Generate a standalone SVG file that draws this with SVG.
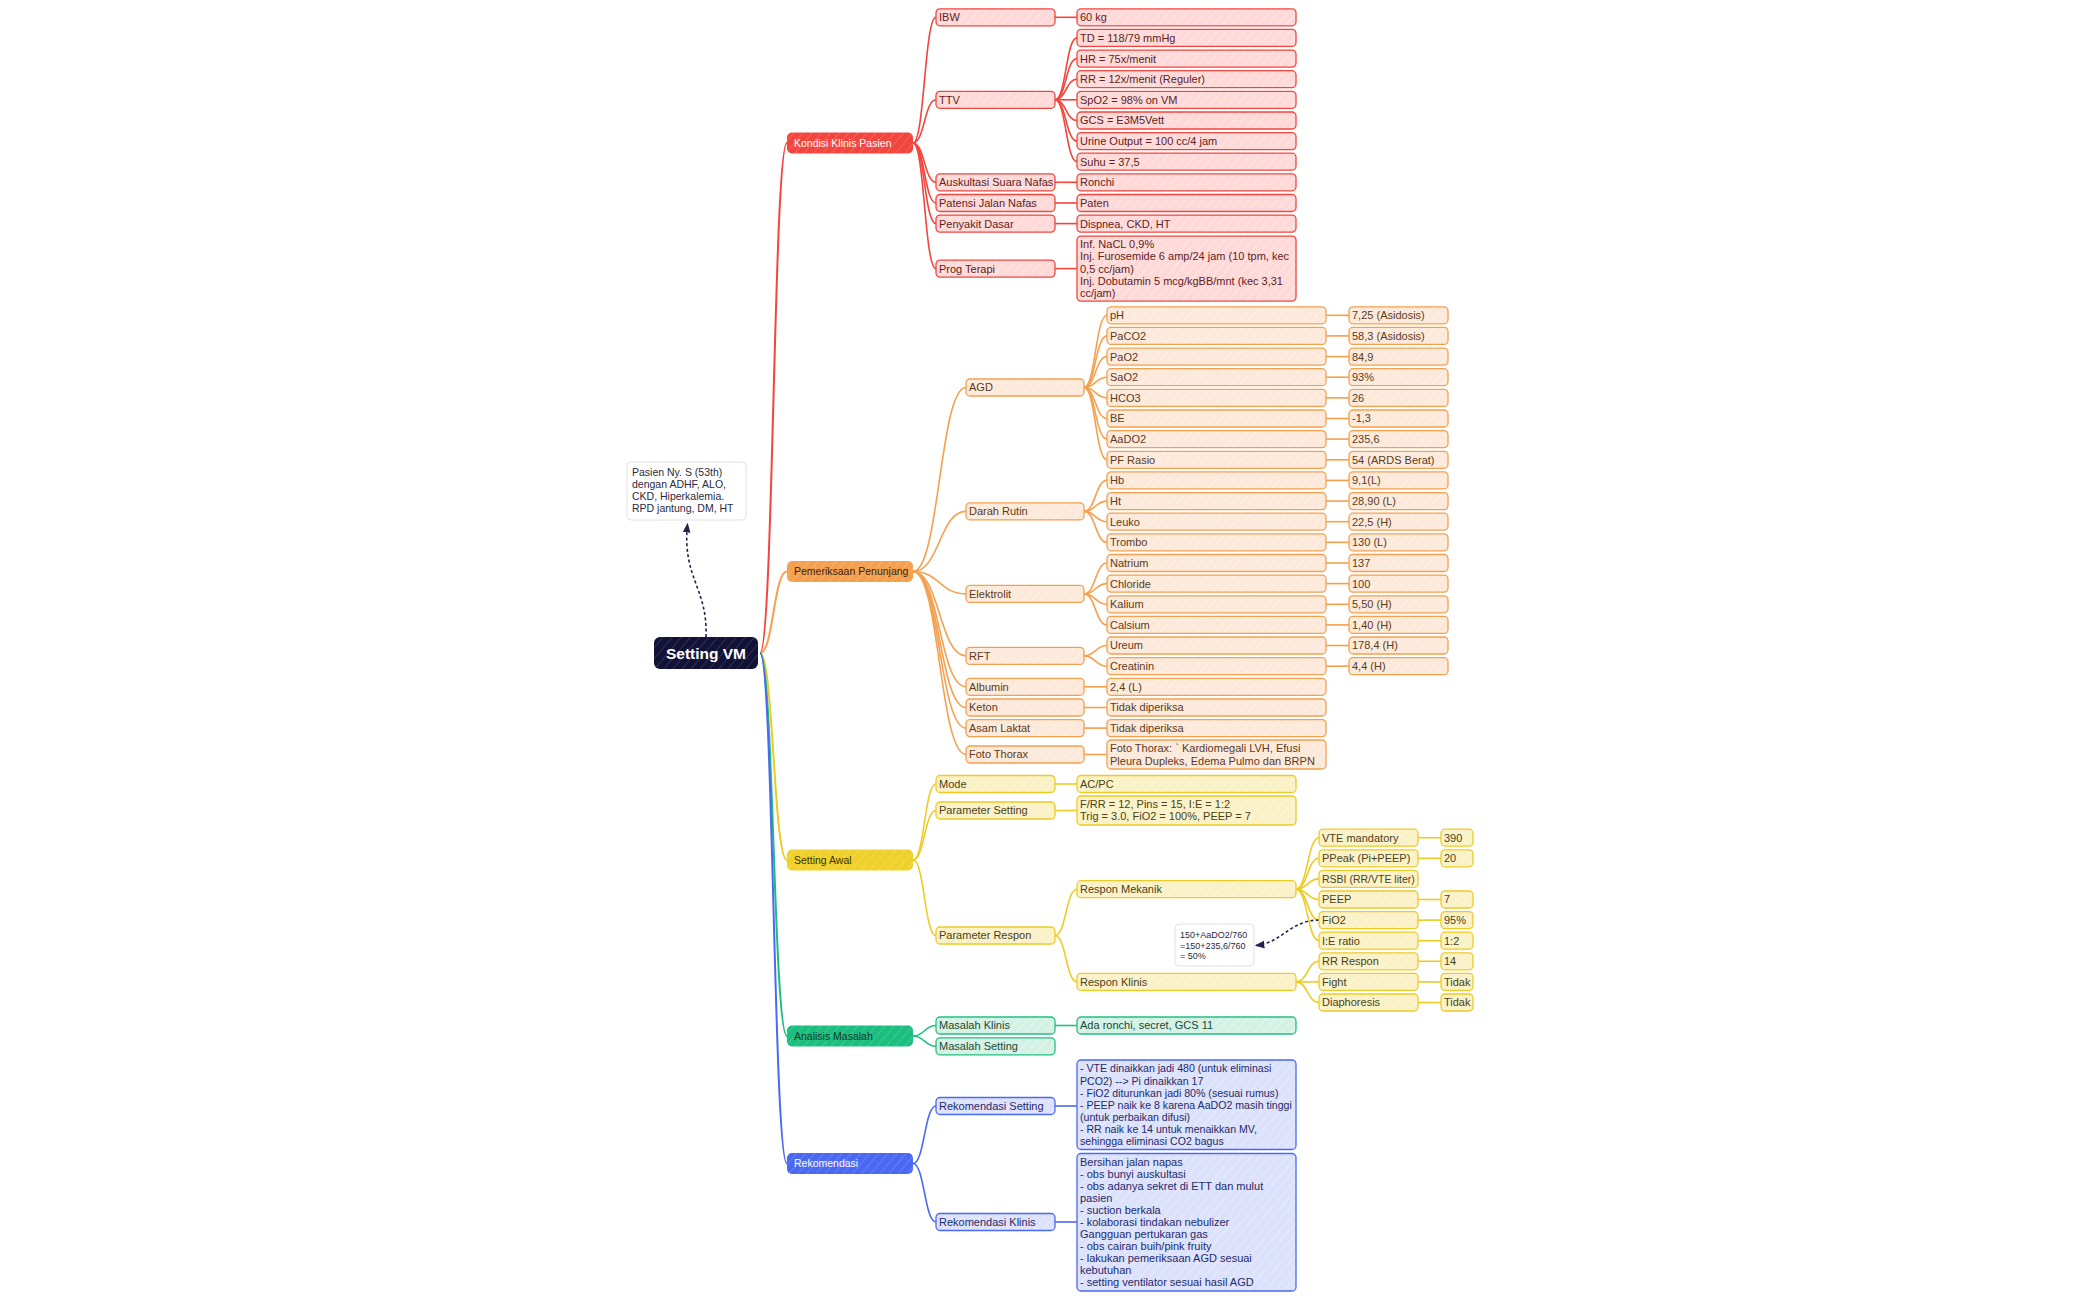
<svg xmlns="http://www.w3.org/2000/svg" width="2099" height="1300" viewBox="0 0 2099 1300">
<defs>
<pattern id="hR" width="7" height="7" patternUnits="userSpaceOnUse" patternTransform="rotate(40)"><rect width="7" height="7" fill="#FFD9D8"/><path d="M0 0V7" stroke="#fff" stroke-width="1.2" stroke-opacity=".55"/></pattern>
<pattern id="hO" width="7" height="7" patternUnits="userSpaceOnUse" patternTransform="rotate(40)"><rect width="7" height="7" fill="#FDE9DA"/><path d="M0 0V7" stroke="#fff" stroke-width="1.2" stroke-opacity=".55"/></pattern>
<pattern id="hY" width="7" height="7" patternUnits="userSpaceOnUse" patternTransform="rotate(40)"><rect width="7" height="7" fill="#FBF1C6"/><path d="M0 0V7" stroke="#fff" stroke-width="1.2" stroke-opacity=".55"/></pattern>
<pattern id="hG" width="7" height="7" patternUnits="userSpaceOnUse" patternTransform="rotate(40)"><rect width="7" height="7" fill="#D3F2E5"/><path d="M0 0V7" stroke="#fff" stroke-width="1.2" stroke-opacity=".55"/></pattern>
<pattern id="hB" width="7" height="7" patternUnits="userSpaceOnUse" patternTransform="rotate(40)"><rect width="7" height="7" fill="#DCE1FC"/><path d="M0 0V7" stroke="#fff" stroke-width="1.2" stroke-opacity=".55"/></pattern>
<pattern id="mR" width="7" height="7" patternUnits="userSpaceOnUse" patternTransform="rotate(40)"><rect width="7" height="7" fill="#F2453D"/><path d="M0 0V7" stroke="#fff" stroke-width="1" stroke-opacity=".3"/></pattern>
<pattern id="mO" width="7" height="7" patternUnits="userSpaceOnUse" patternTransform="rotate(40)"><rect width="7" height="7" fill="#F5A04E"/><path d="M0 0V7" stroke="#fff" stroke-width="1" stroke-opacity=".3"/></pattern>
<pattern id="mY" width="7" height="7" patternUnits="userSpaceOnUse" patternTransform="rotate(40)"><rect width="7" height="7" fill="#F0D12B"/><path d="M0 0V7" stroke="#fff" stroke-width="1" stroke-opacity=".3"/></pattern>
<pattern id="mG" width="7" height="7" patternUnits="userSpaceOnUse" patternTransform="rotate(40)"><rect width="7" height="7" fill="#1BBE7E"/><path d="M0 0V7" stroke="#fff" stroke-width="1" stroke-opacity=".3"/></pattern>
<pattern id="mB" width="7" height="7" patternUnits="userSpaceOnUse" patternTransform="rotate(40)"><rect width="7" height="7" fill="#4A68F2"/><path d="M0 0V7" stroke="#fff" stroke-width="1" stroke-opacity=".3"/></pattern>
<pattern id="mK" width="7" height="7" patternUnits="userSpaceOnUse" patternTransform="rotate(40)"><rect width="7" height="7" fill="#111236"/><path d="M0 0V7" stroke="#fff" stroke-width="1" stroke-opacity=".25"/></pattern>
<marker id="arr" viewBox="0 0 8 8" refX="7" refY="4" markerWidth="6" markerHeight="6" orient="auto"><path d="M0 0.8L8 4L0 7.2Z" fill="#22224a"/></marker>
<style>
text{font-family:"Liberation Sans",Arial,sans-serif;font-size:11px}
.k rect{stroke-width:1.3}
.R rect{fill:url(#hR);stroke:#F2453D}
.R text{fill:#5E2222}
.O rect{fill:url(#hO);stroke:#F4A04E}
.O text{fill:#5C3A1A}
.Y rect{fill:url(#hY);stroke:#EDCB25}
.Y text{fill:#4A4215}
.G rect{fill:url(#hG);stroke:#22BF83}
.G text{fill:#174A36}
.B rect{fill:url(#hB);stroke:#4A6AF0}
.B text{fill:#1E2A6A}
.MR text,.MO text,.MY text,.MG text,.MB text{font-size:10.5px}
.MR rect{fill:url(#mR)} .MR text{fill:#fff}
.MO rect{fill:url(#mO)} .MO text{fill:#3A2410}
.MY rect{fill:url(#mY)} .MY text{fill:#3A3200}
.MG rect{fill:url(#mG)} .MG text{fill:#0E3A28}
.MB rect{fill:url(#mB)} .MB text{fill:#fff}
.note rect{fill:#fff;stroke:#E2E2E8;stroke-width:1}
.note text{fill:#2A2A3E}
#connectors path{fill:none;stroke-width:1.6}
.cR path{stroke:#F2453D}
.cO path{stroke:#F4A04E}
.cY path{stroke:#EDCB25}
.cG path{stroke:#22BF83}
.cB path{stroke:#4A6AF0}
.cD path{stroke:#22224a;stroke-width:1.2;stroke-dasharray:3 2.5}
#connectors .trunk path{stroke-width:2}
</style>
</defs>
<rect width="2099" height="1300" fill="#fff"/>

<g id="connectors">
<g class="trunk">
<path d="M760 653C773.5 653 773.5 143 787 143" stroke="#F2453D"/>
<path d="M760 653C773.5 653 773.5 571.5 787 571.5" stroke="#F4A04E"/>
<path d="M760 653C773.5 653 773.5 860 787 860" stroke="#EDCB25"/>
<path d="M760 653C773.5 653 773.5 1036 787 1036" stroke="#1BBE7E"/>
<path d="M760 653C773.5 653 773.5 1163.5 787 1163.5" stroke="#4A68F2"/>
</g>
<g class="cR">
<path d="M913 143C924.5 143 924.5 17.3 936 17.3"/>
<path d="M913 143C924.5 143 924.5 99.8 936 99.8"/>
<path d="M913 143C924.5 143 924.5 182.3 936 182.3"/>
<path d="M913 143C924.5 143 924.5 203 936 203"/>
<path d="M913 143C924.5 143 924.5 223.6 936 223.6"/>
<path d="M913 143C924.5 143 924.5 268.6 936 268.6"/>
<path d="M1055 17.3H1077"/>
<path d="M1055 99.8C1066 99.8 1066 37.9 1077 37.9"/>
<path d="M1055 99.8C1066 99.8 1066 58.6 1077 58.6"/>
<path d="M1055 99.8C1066 99.8 1066 79.2 1077 79.2"/>
<path d="M1055 99.8H1077"/>
<path d="M1055 99.8C1066 99.8 1066 120.5 1077 120.5"/>
<path d="M1055 99.8C1066 99.8 1066 141.1 1077 141.1"/>
<path d="M1055 99.8C1066 99.8 1066 161.7 1077 161.7"/>
<path d="M1055 182.3H1077"/>
<path d="M1055 203H1077"/>
<path d="M1055 223.6H1077"/>
<path d="M1055 268.6H1077"/>
</g>
<g class="cO">
<path d="M913 571.5C939.5 571.5 939.5 387.5 966 387.5"/>
<path d="M913 571.5C939.5 571.5 939.5 511.4 966 511.4"/>
<path d="M913 571.5C939.5 571.5 939.5 593.9 966 593.9"/>
<path d="M913 571.5C939.5 571.5 939.5 655.9 966 655.9"/>
<path d="M913 571.5C939.5 571.5 939.5 686.8 966 686.8"/>
<path d="M913 571.5C939.5 571.5 939.5 707.5 966 707.5"/>
<path d="M913 571.5C939.5 571.5 939.5 728.1 966 728.1"/>
<path d="M913 571.5C939.5 571.5 939.5 754.5 966 754.5"/>
<path d="M1084 387.5C1095.5 387.5 1095.5 315.3 1107 315.3"/>
<path d="M1084 387.5C1095.5 387.5 1095.5 335.9 1107 335.9"/>
<path d="M1084 387.5C1095.5 387.5 1095.5 356.6 1107 356.6"/>
<path d="M1084 387.5C1095.5 387.5 1095.5 377.2 1107 377.2"/>
<path d="M1084 387.5C1095.5 387.5 1095.5 397.9 1107 397.9"/>
<path d="M1084 387.5C1095.5 387.5 1095.5 418.5 1107 418.5"/>
<path d="M1084 387.5C1095.5 387.5 1095.5 439.1 1107 439.1"/>
<path d="M1084 387.5C1095.5 387.5 1095.5 459.8 1107 459.8"/>
<path d="M1084 511.4C1095.5 511.4 1095.5 480.4 1107 480.4"/>
<path d="M1084 511.4C1095.5 511.4 1095.5 501.1 1107 501.1"/>
<path d="M1084 511.4C1095.5 511.4 1095.5 521.7 1107 521.7"/>
<path d="M1084 511.4C1095.5 511.4 1095.5 542.3 1107 542.3"/>
<path d="M1084 593.9C1095.5 593.9 1095.5 563 1107 563"/>
<path d="M1084 593.9C1095.5 593.9 1095.5 583.6 1107 583.6"/>
<path d="M1084 593.9C1095.5 593.9 1095.5 604.3 1107 604.3"/>
<path d="M1084 593.9C1095.5 593.9 1095.5 624.9 1107 624.9"/>
<path d="M1084 655.9C1095.5 655.9 1095.5 645.5 1107 645.5"/>
<path d="M1084 655.9C1095.5 655.9 1095.5 666.2 1107 666.2"/>
<path d="M1084 686.8H1107"/>
<path d="M1084 707.5H1107"/>
<path d="M1084 728.1H1107"/>
<path d="M1084 754.5H1107"/>
<path d="M1326 315.3H1349"/>
<path d="M1326 335.9H1349"/>
<path d="M1326 356.6H1349"/>
<path d="M1326 377.2H1349"/>
<path d="M1326 397.9H1349"/>
<path d="M1326 418.5H1349"/>
<path d="M1326 439.1H1349"/>
<path d="M1326 459.8H1349"/>
<path d="M1326 480.4H1349"/>
<path d="M1326 501.1H1349"/>
<path d="M1326 521.7H1349"/>
<path d="M1326 542.3H1349"/>
<path d="M1326 563H1349"/>
<path d="M1326 583.6H1349"/>
<path d="M1326 604.3H1349"/>
<path d="M1326 624.9H1349"/>
<path d="M1326 645.5H1349"/>
<path d="M1326 666.2H1349"/>
</g>
<g class="cY">
<path d="M913 860C924.5 860 924.5 784 936 784"/>
<path d="M913 860C924.5 860 924.5 810.5 936 810.5"/>
<path d="M913 860C924.5 860 924.5 935.5 936 935.5"/>
<path d="M1055 784H1077"/>
<path d="M1055 810.5H1077"/>
<path d="M1055 935.5C1066 935.5 1066 889.2 1077 889.2"/>
<path d="M1055 935.5C1066 935.5 1066 981.9 1077 981.9"/>
<path d="M1296 889.2C1307.5 889.2 1307.5 837.7 1319 837.7"/>
<path d="M1296 889.2C1307.5 889.2 1307.5 858.3 1319 858.3"/>
<path d="M1296 889.2C1307.5 889.2 1307.5 878.9 1319 878.9"/>
<path d="M1296 889.2C1307.5 889.2 1307.5 899.5 1319 899.5"/>
<path d="M1296 889.2C1307.5 889.2 1307.5 920.1 1319 920.1"/>
<path d="M1296 889.2C1307.5 889.2 1307.5 940.7 1319 940.7"/>
<path d="M1296 981.9C1307.5 981.9 1307.5 961.3 1319 961.3"/>
<path d="M1296 981.9H1319"/>
<path d="M1296 981.9C1307.5 981.9 1307.5 1002.5 1319 1002.5"/>
<path d="M1418 837.7H1441"/>
<path d="M1418 858.3H1441"/>
<path d="M1418 899.5H1441"/>
<path d="M1418 920.1H1441"/>
<path d="M1418 940.7H1441"/>
<path d="M1418 961.3H1441"/>
<path d="M1418 981.9H1441"/>
<path d="M1418 1002.5H1441"/>
</g>
<g class="cG">
<path d="M913 1036C924.5 1036 924.5 1025.5 936 1025.5"/>
<path d="M913 1036C924.5 1036 924.5 1046.3 936 1046.3"/>
<path d="M1055 1025.5H1077"/>
</g>
<g class="cB">
<path d="M913 1163.5C924.5 1163.5 924.5 1106 936 1106"/>
<path d="M913 1163.5C924.5 1163.5 924.5 1222 936 1222"/>
<path d="M1055 1106H1077"/>
<path d="M1055 1222H1077"/>
</g>
<g class="cD">
<path d="M706 637C708 588 682 578 687.5 524" marker-end="url(#arr)"/>
<path d="M1319 920.1C1290 920.1 1282 943 1256 945.5" marker-end="url(#arr)"/>
</g>
</g>

<g id="root" class="k"><rect x="654" y="637" width="104" height="32" rx="6" fill="url(#mK)"/><text x="706" y="658.5" text-anchor="middle" fill="#fff" font-weight="bold" style="font-size:15.5px">Setting VM</text></g>
<g id="note-pasien" class="note"><rect x="627" y="462" width="119" height="58" rx="4"/><text style="font-size:10.5px"><tspan x="632" y="476.2">Pasien Ny. S (53th)</tspan><tspan x="632" y="488.1">dengan ADHF, ALO,</tspan><tspan x="632" y="500">CKD, Hiperkalemia.</tspan><tspan x="632" y="511.9">RPD jantung, DM, HT</tspan></text></g>
<g id="note-fio2" class="note"><rect x="1175" y="924" width="79" height="42" rx="4"/><text style="font-size:9px"><tspan x="1180" y="938.2">150+AaDO2/760</tspan><tspan x="1180" y="948.6">=150+235,6/760</tspan><tspan x="1180" y="959">= 50%</tspan></text></g>

<!-- Kondisi Klinis Pasien -->
<g id="m-kondisi" class="k MR"><rect x="787" y="132.5" width="126" height="21" rx="5"/><text x="794" y="146.8">Kondisi Klinis Pasien</text></g>
<g id="n-ibw" class="k R"><rect x="936" y="8.8" width="119" height="17" rx="4"/><text x="939" y="21.2">IBW</text></g>
<g id="v-ibw" class="k R"><rect x="1077" y="8.8" width="219" height="17" rx="4"/><text x="1080" y="21.2">60 kg</text></g>
<g id="n-ttv" class="k R"><rect x="936" y="91.3" width="119" height="17" rx="4"/><text x="939" y="103.7">TTV</text></g>
<g id="v-td" class="k R"><rect x="1077" y="29.4" width="219" height="17" rx="4"/><text x="1080" y="41.8">TD = 118/79 mmHg</text></g>
<g id="v-hr" class="k R"><rect x="1077" y="50.1" width="219" height="17" rx="4"/><text x="1080" y="62.5">HR = 75x/menit</text></g>
<g id="v-rr" class="k R"><rect x="1077" y="70.7" width="219" height="17" rx="4"/><text x="1080" y="83.1">RR = 12x/menit (Reguler)</text></g>
<g id="v-spo2" class="k R"><rect x="1077" y="91.3" width="219" height="17" rx="4"/><text x="1080" y="103.7">SpO2 = 98% on VM</text></g>
<g id="v-gcs" class="k R"><rect x="1077" y="112" width="219" height="17" rx="4"/><text x="1080" y="124.4">GCS = E3M5Vett</text></g>
<g id="v-uo" class="k R"><rect x="1077" y="132.6" width="219" height="17" rx="4"/><text x="1080" y="145">Urine Output = 100 cc/4 jam</text></g>
<g id="v-suhu" class="k R"><rect x="1077" y="153.2" width="219" height="17" rx="4"/><text x="1080" y="165.6">Suhu = 37,5</text></g>
<g id="n-ausk" class="k R"><rect x="936" y="173.8" width="119" height="17" rx="4"/><text x="939" y="186.2">Auskultasi Suara Nafas</text></g>
<g id="v-ausk" class="k R"><rect x="1077" y="173.8" width="219" height="17" rx="4"/><text x="1080" y="186.2">Ronchi</text></g>
<g id="n-paten" class="k R"><rect x="936" y="194.5" width="119" height="17" rx="4"/><text x="939" y="206.9">Patensi Jalan Nafas</text></g>
<g id="v-paten" class="k R"><rect x="1077" y="194.5" width="219" height="17" rx="4"/><text x="1080" y="206.9">Paten</text></g>
<g id="n-peny" class="k R"><rect x="936" y="215.1" width="119" height="17" rx="4"/><text x="939" y="227.5">Penyakit Dasar</text></g>
<g id="v-peny" class="k R"><rect x="1077" y="215.1" width="219" height="17" rx="4"/><text x="1080" y="227.5">Dispnea, CKD, HT</text></g>
<g id="n-prog" class="k R"><rect x="936" y="260.1" width="119" height="17" rx="4"/><text x="939" y="272.5">Prog Terapi</text></g>
<g id="v-prog" class="k R"><rect x="1077" y="236.1" width="219" height="65" rx="4"/><text><tspan x="1080" y="248.1">Inf. NaCL 0,9%</tspan><tspan x="1080" y="260.3">Inj. Furosemide 6 amp/24 jam (10 tpm, kec</tspan><tspan x="1080" y="272.5">0,5 cc/jam)</tspan><tspan x="1080" y="284.7">Inj. Dobutamin 5 mcg/kgBB/mnt (kec 3,31</tspan><tspan x="1080" y="296.9">cc/jam)</tspan></text></g>

<!-- Pemeriksaan Penunjang -->
<g id="m-pemeriksaan" class="k MO"><rect x="787" y="561" width="126" height="21" rx="5"/><text x="794" y="575.3">Pemeriksaan Penunjang</text></g>
<g id="n-agd" class="k O"><rect x="966" y="379" width="118" height="17" rx="4"/><text x="969" y="391.4">AGD</text></g>
<g id="n-darah" class="k O"><rect x="966" y="502.9" width="118" height="17" rx="4"/><text x="969" y="515.3">Darah Rutin</text></g>
<g id="n-elek" class="k O"><rect x="966" y="585.4" width="118" height="17" rx="4"/><text x="969" y="597.8">Elektrolit</text></g>
<g id="n-rft" class="k O"><rect x="966" y="647.4" width="118" height="17" rx="4"/><text x="969" y="659.8">RFT</text></g>
<g id="n-alb" class="k O"><rect x="966" y="678.3" width="118" height="17" rx="4"/><text x="969" y="690.7">Albumin</text></g>
<g id="n-keton" class="k O"><rect x="966" y="699" width="118" height="17" rx="4"/><text x="969" y="711.4">Keton</text></g>
<g id="n-asam" class="k O"><rect x="966" y="719.6" width="118" height="17" rx="4"/><text x="969" y="732">Asam Laktat</text></g>
<g id="n-foto" class="k O"><rect x="966" y="746" width="118" height="17" rx="4"/><text x="969" y="758.4">Foto Thorax</text></g>
<g id="o-ph" class="k O"><rect x="1107" y="306.8" width="219" height="17" rx="4"/><text x="1110" y="319.2">pH</text></g>
<g id="o-paco2" class="k O"><rect x="1107" y="327.4" width="219" height="17" rx="4"/><text x="1110" y="339.8">PaCO2</text></g>
<g id="o-pao2" class="k O"><rect x="1107" y="348.1" width="219" height="17" rx="4"/><text x="1110" y="360.5">PaO2</text></g>
<g id="o-sao2" class="k O"><rect x="1107" y="368.7" width="219" height="17" rx="4"/><text x="1110" y="381.1">SaO2</text></g>
<g id="o-hco3" class="k O"><rect x="1107" y="389.4" width="219" height="17" rx="4"/><text x="1110" y="401.8">HCO3</text></g>
<g id="o-be" class="k O"><rect x="1107" y="410" width="219" height="17" rx="4"/><text x="1110" y="422.4">BE</text></g>
<g id="o-aado2" class="k O"><rect x="1107" y="430.6" width="219" height="17" rx="4"/><text x="1110" y="443">AaDO2</text></g>
<g id="o-pf" class="k O"><rect x="1107" y="451.3" width="219" height="17" rx="4"/><text x="1110" y="463.7">PF Rasio</text></g>
<g id="o-hb" class="k O"><rect x="1107" y="471.9" width="219" height="17" rx="4"/><text x="1110" y="484.3">Hb</text></g>
<g id="o-ht" class="k O"><rect x="1107" y="492.6" width="219" height="17" rx="4"/><text x="1110" y="505">Ht</text></g>
<g id="o-leuko" class="k O"><rect x="1107" y="513.2" width="219" height="17" rx="4"/><text x="1110" y="525.6">Leuko</text></g>
<g id="o-trombo" class="k O"><rect x="1107" y="533.8" width="219" height="17" rx="4"/><text x="1110" y="546.2">Trombo</text></g>
<g id="o-natrium" class="k O"><rect x="1107" y="554.5" width="219" height="17" rx="4"/><text x="1110" y="566.9">Natrium</text></g>
<g id="o-chloride" class="k O"><rect x="1107" y="575.1" width="219" height="17" rx="4"/><text x="1110" y="587.5">Chloride</text></g>
<g id="o-kalium" class="k O"><rect x="1107" y="595.8" width="219" height="17" rx="4"/><text x="1110" y="608.2">Kalium</text></g>
<g id="o-calsium" class="k O"><rect x="1107" y="616.4" width="219" height="17" rx="4"/><text x="1110" y="628.8">Calsium</text></g>
<g id="o-ureum" class="k O"><rect x="1107" y="637" width="219" height="17" rx="4"/><text x="1110" y="649.4">Ureum</text></g>
<g id="o-creatinin" class="k O"><rect x="1107" y="657.7" width="219" height="17" rx="4"/><text x="1110" y="670.1">Creatinin</text></g>
<g id="o-albumin" class="k O"><rect x="1107" y="678.3" width="219" height="17" rx="4"/><text x="1110" y="690.7">2,4 (L)</text></g>
<g id="o-keton" class="k O"><rect x="1107" y="699" width="219" height="17" rx="4"/><text x="1110" y="711.4">Tidak diperiksa</text></g>
<g id="o-asam" class="k O"><rect x="1107" y="719.6" width="219" height="17" rx="4"/><text x="1110" y="732">Tidak diperiksa</text></g>
<g id="o-foto" class="k O"><rect x="1107" y="740" width="219" height="29" rx="4"/><text><tspan x="1110" y="752.4">Foto Thorax: ` Kardiomegali LVH, Efusi</tspan><tspan x="1110" y="764.6">Pleura Dupleks, Edema Pulmo dan BRPN</tspan></text></g>
<g id="w-ph" class="k O"><rect x="1349" y="306.8" width="99" height="17" rx="4"/><text x="1352" y="319.2">7,25 (Asidosis)</text></g>
<g id="w-paco2" class="k O"><rect x="1349" y="327.4" width="99" height="17" rx="4"/><text x="1352" y="339.8">58,3 (Asidosis)</text></g>
<g id="w-pao2" class="k O"><rect x="1349" y="348.1" width="99" height="17" rx="4"/><text x="1352" y="360.5">84,9</text></g>
<g id="w-sao2" class="k O"><rect x="1349" y="368.7" width="99" height="17" rx="4"/><text x="1352" y="381.1">93%</text></g>
<g id="w-hco3" class="k O"><rect x="1349" y="389.4" width="99" height="17" rx="4"/><text x="1352" y="401.8">26</text></g>
<g id="w-be" class="k O"><rect x="1349" y="410" width="99" height="17" rx="4"/><text x="1352" y="422.4">-1,3</text></g>
<g id="w-aado2" class="k O"><rect x="1349" y="430.6" width="99" height="17" rx="4"/><text x="1352" y="443">235,6</text></g>
<g id="w-pf" class="k O"><rect x="1349" y="451.3" width="99" height="17" rx="4"/><text x="1352" y="463.7">54 (ARDS Berat)</text></g>
<g id="w-hb" class="k O"><rect x="1349" y="471.9" width="99" height="17" rx="4"/><text x="1352" y="484.3">9,1(L)</text></g>
<g id="w-ht" class="k O"><rect x="1349" y="492.6" width="99" height="17" rx="4"/><text x="1352" y="505">28,90 (L)</text></g>
<g id="w-leuko" class="k O"><rect x="1349" y="513.2" width="99" height="17" rx="4"/><text x="1352" y="525.6">22,5 (H)</text></g>
<g id="w-trombo" class="k O"><rect x="1349" y="533.8" width="99" height="17" rx="4"/><text x="1352" y="546.2">130 (L)</text></g>
<g id="w-natrium" class="k O"><rect x="1349" y="554.5" width="99" height="17" rx="4"/><text x="1352" y="566.9">137</text></g>
<g id="w-chloride" class="k O"><rect x="1349" y="575.1" width="99" height="17" rx="4"/><text x="1352" y="587.5">100</text></g>
<g id="w-kalium" class="k O"><rect x="1349" y="595.8" width="99" height="17" rx="4"/><text x="1352" y="608.2">5,50 (H)</text></g>
<g id="w-calsium" class="k O"><rect x="1349" y="616.4" width="99" height="17" rx="4"/><text x="1352" y="628.8">1,40 (H)</text></g>
<g id="w-ureum" class="k O"><rect x="1349" y="637" width="99" height="17" rx="4"/><text x="1352" y="649.4">178,4 (H)</text></g>
<g id="w-creatinin" class="k O"><rect x="1349" y="657.7" width="99" height="17" rx="4"/><text x="1352" y="670.1">4,4 (H)</text></g>

<!-- Setting Awal -->
<g id="m-setting" class="k MY"><rect x="787" y="849.5" width="126" height="21" rx="5"/><text x="794" y="863.8">Setting Awal</text></g>
<g id="n-mode" class="k Y"><rect x="936" y="775.5" width="119" height="17" rx="4"/><text x="939" y="787.9">Mode</text></g>
<g id="v-mode" class="k Y"><rect x="1077" y="775.5" width="219" height="17" rx="4"/><text x="1080" y="787.9">AC/PC</text></g>
<g id="n-pset" class="k Y"><rect x="936" y="802" width="119" height="17" rx="4"/><text x="939" y="814.4">Parameter Setting</text></g>
<g id="v-pset" class="k Y"><rect x="1077" y="796" width="219" height="29" rx="4"/><text><tspan x="1080" y="808.2">F/RR = 12, Pins = 15, I:E = 1:2</tspan><tspan x="1080" y="820.4">Trig = 3.0, FiO2 = 100%, PEEP = 7</tspan></text></g>
<g id="n-presp" class="k Y"><rect x="936" y="927" width="119" height="17" rx="4"/><text x="939" y="939.4">Parameter Respon</text></g>
<g id="n-rmek" class="k Y"><rect x="1077" y="880.7" width="219" height="17" rx="4"/><text x="1080" y="893.1">Respon Mekanik</text></g>
<g id="n-rklinis" class="k Y"><rect x="1077" y="973.4" width="219" height="17" rx="4"/><text x="1080" y="985.8">Respon Klinis</text></g>
<g id="s-vte" class="k Y"><rect x="1319" y="829.2" width="99" height="17" rx="4"/><text x="1322" y="841.6">VTE mandatory</text></g>
<g id="s-ppeak" class="k Y"><rect x="1319" y="849.8" width="99" height="17" rx="4"/><text x="1322" y="862.2">PPeak (Pi+PEEP)</text></g>
<g id="s-rsbi" class="k Y"><rect x="1319" y="870.4" width="99" height="17" rx="4"/><text x="1322" y="882.8" style="font-size:10.5px">RSBI (RR/VTE liter)</text></g>
<g id="s-peep" class="k Y"><rect x="1319" y="891" width="99" height="17" rx="4"/><text x="1322" y="903.4">PEEP</text></g>
<g id="s-fio2" class="k Y"><rect x="1319" y="911.6" width="99" height="17" rx="4"/><text x="1322" y="924">FiO2</text></g>
<g id="s-ie" class="k Y"><rect x="1319" y="932.2" width="99" height="17" rx="4"/><text x="1322" y="944.6">I:E ratio</text></g>
<g id="s-rr" class="k Y"><rect x="1319" y="952.8" width="99" height="17" rx="4"/><text x="1322" y="965.2">RR Respon</text></g>
<g id="s-fight" class="k Y"><rect x="1319" y="973.4" width="99" height="17" rx="4"/><text x="1322" y="985.8">Fight</text></g>
<g id="s-diaph" class="k Y"><rect x="1319" y="994" width="99" height="17" rx="4"/><text x="1322" y="1006.4">Diaphoresis</text></g>
<g id="t-vte" class="k Y"><rect x="1441" y="829.2" width="32" height="17" rx="4"/><text x="1444" y="841.6">390</text></g>
<g id="t-ppeak" class="k Y"><rect x="1441" y="849.8" width="32" height="17" rx="4"/><text x="1444" y="862.2">20</text></g>
<g id="t-peep" class="k Y"><rect x="1441" y="891" width="32" height="17" rx="4"/><text x="1444" y="903.4">7</text></g>
<g id="t-fio2" class="k Y"><rect x="1441" y="911.6" width="32" height="17" rx="4"/><text x="1444" y="924">95%</text></g>
<g id="t-ie" class="k Y"><rect x="1441" y="932.2" width="32" height="17" rx="4"/><text x="1444" y="944.6">1:2</text></g>
<g id="t-rr" class="k Y"><rect x="1441" y="952.8" width="32" height="17" rx="4"/><text x="1444" y="965.2">14</text></g>
<g id="t-fight" class="k Y"><rect x="1441" y="973.4" width="32" height="17" rx="4"/><text x="1444" y="985.8">Tidak</text></g>
<g id="t-diaph" class="k Y"><rect x="1441" y="994" width="32" height="17" rx="4"/><text x="1444" y="1006.4">Tidak</text></g>

<!-- Analisis Masalah -->
<g id="m-analisis" class="k MG"><rect x="787" y="1025.5" width="126" height="21" rx="5"/><text x="794" y="1039.8">Analisis Masalah</text></g>
<g id="n-mklinis" class="k G"><rect x="936" y="1017" width="119" height="17" rx="4"/><text x="939" y="1029.4">Masalah Klinis</text></g>
<g id="v-mklinis" class="k G"><rect x="1077" y="1017" width="219" height="17" rx="4"/><text x="1080" y="1029.4">Ada ronchi, secret, GCS 11</text></g>
<g id="n-msetting" class="k G"><rect x="936" y="1037.8" width="119" height="17" rx="4"/><text x="939" y="1050.2">Masalah Setting</text></g>

<!-- Rekomendasi -->
<g id="m-rekomendasi" class="k MB"><rect x="787" y="1153" width="126" height="21" rx="5"/><text x="794" y="1167.3">Rekomendasi</text></g>
<g id="n-rsetting" class="k B"><rect x="936" y="1097.5" width="119" height="17" rx="4"/><text x="939" y="1109.9">Rekomendasi Setting</text></g>
<g id="v-rsetting" class="k B"><rect x="1077" y="1060" width="219" height="89.5" rx="4"/><text style="font-size:10.6px"><tspan x="1080" y="1072.4">- VTE dinaikkan jadi 480 (untuk eliminasi</tspan><tspan x="1080" y="1084.5">PCO2) --&gt; Pi dinaikkan 17</tspan><tspan x="1080" y="1096.6">- FiO2 diturunkan jadi 80% (sesuai rumus)</tspan><tspan x="1080" y="1108.7">- PEEP naik ke 8 karena AaDO2 masih tinggi</tspan><tspan x="1080" y="1120.8">(untuk perbaikan difusi)</tspan><tspan x="1080" y="1132.9">- RR naik ke 14 untuk menaikkan MV,</tspan><tspan x="1080" y="1145">sehingga eliminasi CO2 bagus</tspan></text></g>
<g id="n-rklinis2" class="k B"><rect x="936" y="1213.5" width="119" height="17" rx="4"/><text x="939" y="1225.9">Rekomendasi Klinis</text></g>
<g id="v-rklinis" class="k B"><rect x="1077" y="1153.5" width="219" height="137.5" rx="4"/><text><tspan x="1080" y="1166.2">Bersihan jalan napas</tspan><tspan x="1080" y="1178.2">- obs bunyi auskultasi</tspan><tspan x="1080" y="1190.2">- obs adanya sekret di ETT dan mulut</tspan><tspan x="1080" y="1202.2">pasien</tspan><tspan x="1080" y="1214.2">- suction berkala</tspan><tspan x="1080" y="1226.2">- kolaborasi tindakan nebulizer</tspan><tspan x="1080" y="1238.2">Gangguan pertukaran gas</tspan><tspan x="1080" y="1250.2">- obs cairan buih/pink fruity</tspan><tspan x="1080" y="1262.2">- lakukan pemeriksaan AGD sesuai</tspan><tspan x="1080" y="1274.2">kebutuhan</tspan><tspan x="1080" y="1286.2">- setting ventilator sesuai hasil AGD</tspan></text></g>
</svg>
